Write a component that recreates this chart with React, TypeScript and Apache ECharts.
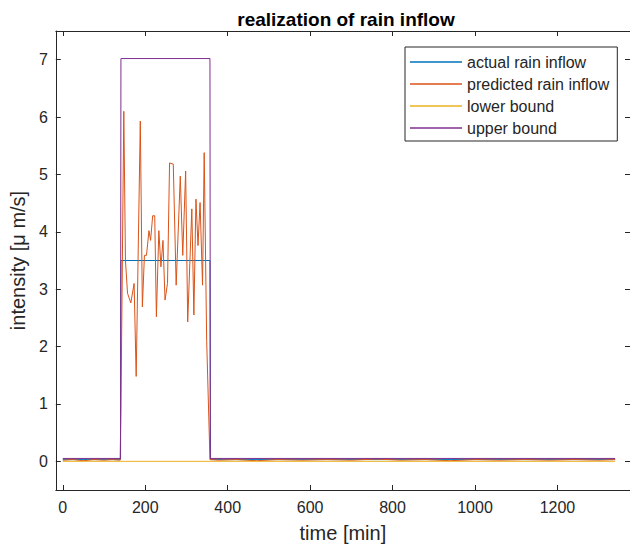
import React, { useEffect, useRef } from "react";
import * as echarts from "echarts";

const xTicks = [0, 200, 400, 600, 800, 1000, 1200];
const yTicks = [0, 1, 2, 3, 4, 5, 6, 7];

const actualTime = [0, 140, 141, 357, 358, 1340];
const actualValue = [0.03, 0.03, 3.5, 3.5, 0.03, 0.03];

const upperTime = [0, 140, 141, 357, 358, 1340];
const upperValue = [0.05, 0.05, 7.02, 7.02, 0.05, 0.05];

const lowerTime = [0, 1340];
const lowerValue = [0, 0];

const predTime = [
  0, 25, 50, 75, 100, 120, 139, 141, 148, 152, 157, 165, 173, 178, 188, 193, 198, 203, 209, 213, 218, 223,
  227, 233, 238, 243, 248, 254, 259, 268, 275, 285, 291, 298, 303, 313, 318, 323, 328, 333, 339, 343, 349,
  357, 380, 420, 470, 520, 580, 640, 700, 760, 820, 880, 940, 1000, 1060, 1120, 1180, 1240, 1300, 1340,
];
const predValue = [
  0.02, 0.03, 0.01, 0.03, 0.02, 0.03, 0.02, 0.9, 6.1, 3.5, 2.93, 2.76, 3.1, 1.48, 5.93, 2.69, 3.59, 3.59, 4.02,
  3.85, 4.28, 4.28, 2.52, 4.02, 3.39, 3.85, 2.81, 3.1, 5.2, 5.18, 3.07, 4.97, 3.59, 5.06, 2.43, 4.4, 2.55,
  4.57, 3.76, 4.51, 3.07, 5.38, 2.11, 0.03, 0.02, 0.03, 0.01, 0.03, 0.02, 0.03, 0.02, 0.04, 0.02, 0.03, 0.01,
  0.03, 0.02, 0.03, 0.02, 0.03, 0.02, 0.03,
];

const pairs = (t: number[], v: number[]) => t.map((x, i) => [x, v[i]]);

const TXT = "#262626";
const FONT = "Liberation Sans, Arial, Helvetica, sans-serif";

export default function App() {
  const ref = useRef<HTMLDivElement>(null);
  useEffect(() => {
    if (!ref.current) return;
    const chart = echarts.init(ref.current, undefined, { renderer: "svg" });
    const axisCommon = {
      axisLine: { show: true, onZero: false, lineStyle: { color: TXT, width: 1 } },
      axisTick: { show: true, inside: true, length: 5, lineStyle: { color: TXT } },
      splitLine: { show: false },
    };
    chart.setOption({
      animation: false,
      backgroundColor: "#ffffff",
      textStyle: { fontFamily: FONT },
      title: {
        text: "realization of rain inflow",
        left: 341,
        textAlign: "center",
        top: 5,
        textStyle: { fontFamily: FONT, fontSize: 19, fontWeight: "bold", color: "#000" },
      },
      legend: {
        orient: "vertical",
        left: 405,
        top: 47,
        icon: "rect",
        itemWidth: 52,
        itemHeight: 1.5,
        itemGap: 6,
        padding: [7, 8, 5, 5],
        borderColor: TXT,
        borderWidth: 1,
        backgroundColor: "#fff",
        textStyle: { fontFamily: FONT, fontSize: 16, lineHeight: 16, color: TXT },
        data: ["actual rain inflow", "predicted rain inflow", "lower bound", "upper bound"],
      },
      grid: { left: 53, top: 31, width: 578, height: 459, containLabel: false },
      xAxis: [
        {
          type: "value",
          min: -17,
          max: 1376,
          ...axisCommon,
          axisTick: { ...axisCommon.axisTick, customValues: xTicks },
          axisLabel: {
            customValues: xTicks,
            formatter: (v: number) => String(v),
            fontFamily: FONT,
            fontSize: 16,
            color: TXT,
            margin: 9,
          },
          name: "time [min]",
          nameLocation: "middle",
          nameGap: 33,
          nameTextStyle: { fontFamily: FONT, fontSize: 20, color: TXT },
        },
        {
          type: "value",
          position: "top",
          min: -17,
          max: 1376,
          ...axisCommon,
          axisTick: { ...axisCommon.axisTick, customValues: xTicks },
          axisLabel: { show: false },
        },
      ],
      yAxis: [
        {
          type: "value",
          min: -0.5,
          max: 7.5,
          ...axisCommon,
          axisTick: { ...axisCommon.axisTick, customValues: yTicks },
          axisLabel: { customValues: yTicks, fontFamily: FONT, fontSize: 16, color: TXT, margin: 8 },
          name: "intensity [μ m/s]",
          nameLocation: "middle",
          nameRotate: 90,
          nameGap: 24,
          nameTextStyle: { fontFamily: FONT, fontSize: 20, color: TXT },
        },
        {
          type: "value",
          position: "right",
          min: -0.5,
          max: 7.5,
          ...axisCommon,
          axisTick: { ...axisCommon.axisTick, customValues: yTicks },
          axisLabel: { show: false },
        },
      ],
      series: [
        {
          name: "actual rain inflow",
          type: "line",
          data: pairs(actualTime, actualValue),
          symbol: "none",
          lineStyle: { color: "#0072BD", width: 1 },
          itemStyle: { color: "#0072BD" },
        },
        {
          name: "predicted rain inflow",
          type: "line",
          data: pairs(predTime, predValue),
          symbol: "none",
          lineStyle: { color: "#D95319", width: 1 },
          itemStyle: { color: "#D95319" },
        },
        {
          name: "lower bound",
          type: "line",
          data: pairs(lowerTime, lowerValue),
          symbol: "none",
          lineStyle: { color: "#EDB120", width: 1 },
          itemStyle: { color: "#EDB120" },
        },
        {
          name: "upper bound",
          type: "line",
          data: pairs(upperTime, upperValue),
          symbol: "none",
          lineStyle: { color: "#7E2F8E", width: 1 },
          itemStyle: { color: "#7E2F8E" },
        },
      ],
    });
    return () => chart.dispose();
  }, []);
  return <div ref={ref} style={{ width: 630, height: 549, position: "absolute", left: 0, top: 0 }} />;
}
